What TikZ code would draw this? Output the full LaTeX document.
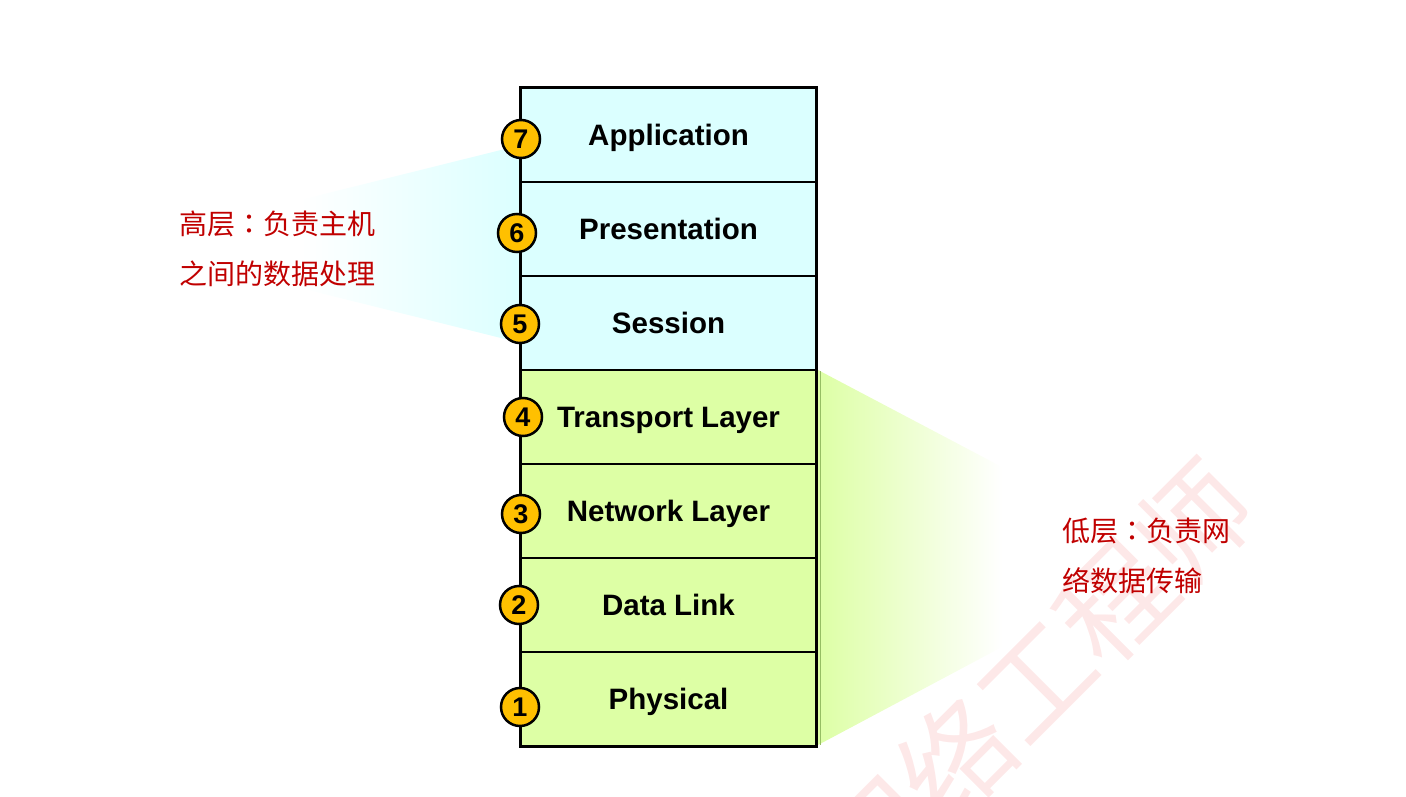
\documentclass[tikz,border=0pt]{standalone}
\usepackage{fontspec}
\setmainfont{Liberation Sans}
\newfontfamily\cjk{Noto Sans CJK SC}
\newfontfamily\cjkcolon{Noto Sans CJK TC}
\definecolor{osicyan}{RGB}{219,255,255}
\definecolor{osigreen}{RGB}{221,255,165}
\definecolor{osiorange}{RGB}{255,192,0}
\definecolor{osired}{RGB}{192,0,0}
\definecolor{osimark}{RGB}{253,232,232}
\definecolor{osiedge}{RGB}{150,190,100}
\usetikzlibrary{positioning}
\newcommand{\cjkcol}{{\cjkcolon ：}}
\tikzset{
  layerbox/.style={draw=black,line width=1.2pt,minimum width=295pt,minimum height=94pt,inner sep=0pt,
    text height=26pt,text depth=5pt,font=\fontsize{29.5}{34}\selectfont\bfseries},
  numdot/.style={circle,draw=black,line width=2.5pt,fill=osiorange,minimum size=38pt,inner sep=0pt,
    font=\fontsize{27}{27}\selectfont\bfseries},
  note/.style={text=osired,font=\cjk\fontsize{28}{50}\selectfont,align=left,anchor=west,inner sep=0pt}
}

\begin{document}
\begin{tikzpicture}[x=1pt,y=-1pt]
  \useasboundingbox (0,0) rectangle (1406,797);
  % watermark
  \node[rotate=45,text=osimark,font=\cjk\fontsize{112}{112}\selectfont,inner sep=0pt] (mark) at (1035,680) {网络工程师};
  % fans towards the notes
  \shade[left color=white,right color=osicyan] (300,200) -- (521,145) -- (521,343) -- (300,288) -- cycle;
  \shade[left color=osigreen,right color=white] (818,370) -- (1002,467) -- (1002,647) -- (818,745) -- cycle;
  \draw[osiedge,line width=0.8pt] (820,371) -- (820,745);
  % the seven layers
  \foreach \n/\txt/\col [count=\i] in {7/Application/osicyan,6/Presentation/osicyan,5/Session/osicyan,
      4/Transport Layer/osigreen,3/Network Layer/osigreen,2/Data Link/osigreen,1/Physical/osigreen}
    \node[layerbox,fill=\col] (L\n) at (668.5,{135+94*(\i-1)}) {\txt};
  \draw[line width=3.5pt] (L7.north west) rectangle (L1.south east);
  % numbers
  \foreach \n/\x/\y in {7/521/139,6/517/233,5/520/324,4/523/417,3/521/514,2/519/605,1/520/707}
    \node[numdot] (c\n) at (\x,\y) {\n};
  % notes
  \node[note] (high) at (179,249) {高层\cjkcol 负责主机\\之间的数据处理};
  \node[note] (low) at (1062,556) {低层\cjkcol 负责网\\络数据传输};
\end{tikzpicture}
\end{document}
